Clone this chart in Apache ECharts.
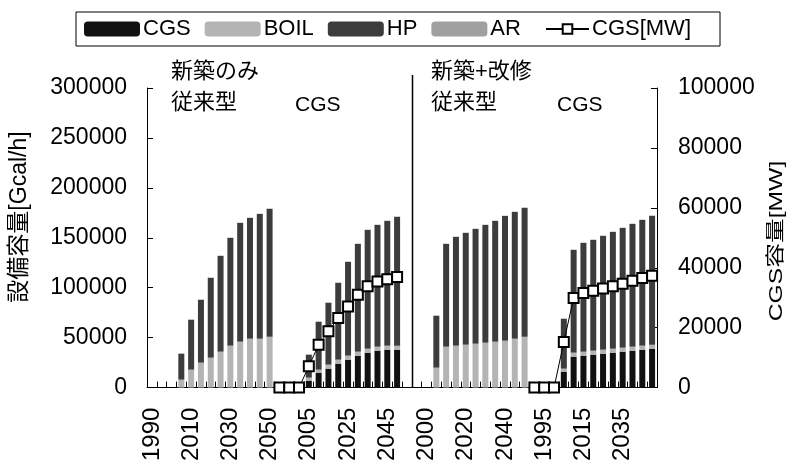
<!DOCTYPE html>
<html>
<head>
<meta charset="utf-8">
<script src="https://cdn.jsdelivr.net/npm/echarts@6/dist/echarts.min.js"></script>
<style>
html,body{margin:0;padding:0;background:#fff;}
#chart{width:793px;height:464px;}
</style>
</head>
<body>
<div id="chart"></div>
<script>
// ---- data ----
var panelYears = ['1990','1995','2000','2005','2010','2015','2020','2025','2030','2035','2040','2045','2050'];
var panelNames = ['新築のみ 従来型','新築のみ CGS','新築+改修 従来型','新築+改修 CGS'];
var seriesNames = ['CGS','BOIL','HP','AR','CGS[MW]'];

// Gcal/h, per panel (1990..2050)
var cgsP1  = [null,null,null,null,null,null,null,null,null,null,null,null,null];
var boilP1 = [null,null,null,8000,18000,25000,30000,36000,42000,46000,49000,49000,51000];
var hpP1   = [null,null,null,26000,50000,63000,80000,96000,108000,119000,121000,125000,128000];
var arP1   = [null,null,null,null,null,null,null,null,null,null,null,null,null];

var cgsP2  = [null,null,null,7000,15000,19000,24000,28000,32000,35000,37000,38000,38000];
var boilP2 = [null,null,null,3000,3000,4000,4000,4000,4000,4000,4000,4000,4000];
var hpP2   = [null,null,null,23000,48000,62000,77000,94000,108000,119000,122000,125000,129000];
var arP2   = [null,null,null,null,null,null,null,null,null,null,null,null,null];

var cgsP3  = [null,null,null,null,null,null,null,null,null,null,null,null,null];
var boilP3 = [null,null,null,20000,41000,42000,43000,44000,45000,46000,47000,49000,51000];
var hpP3   = [null,null,null,52000,103000,109000,112000,115000,118000,121000,125000,127000,129000];
var arP3   = [null,null,null,null,null,null,null,null,null,null,null,null,null];

var cgsP4  = [null,null,null,16000,31000,32000,33000,34000,35000,36000,37000,38000,39000];
var boilP4 = [null,null,null,3000,4000,4000,4000,4000,4000,4000,4000,4000,4000];
var hpP4   = [null,null,null,50000,103000,109000,111000,114000,117000,120000,123000,126000,129000];
var arP4   = [null,null,null,null,null,null,null,null,null,null,null,null,null];

// MW (right axis)
var mwP1 = [null,null,null,null,null,null,null,null,null,null,null,null,null];
var mwP2 = [0,0,0,7100,14300,18800,23200,27100,31000,33800,35400,36200,36900];
var mwP3 = [null,null,null,null,null,null,null,null,null,null,null,null,null];
var mwP4 = [0,0,0,15200,29900,31600,32300,33100,33800,34700,35700,36600,37300];

var leftTicks = [0,50000,100000,150000,200000,250000,300000];
var rightTicks = [0,20000,40000,60000,80000,100000];

// ---- build ----
var categories = [].concat(panelYears, panelYears, panelYears, panelYears);
var cgs  = [].concat(cgsP1, cgsP2, cgsP3, cgsP4);
var boil = [].concat(boilP1, boilP2, boilP3, boilP4);
var hp   = [].concat(hpP1, hpP2, hpP3, hpP4);
var ar   = [].concat(arP1, arP2, arP3, arP4);
var mw   = [].concat(mwP1, mwP2, mwP3, mwP4);

var FONT = "'Liberation Sans', Arial, 'Noto Sans CJK JP', sans-serif";
var chart = echarts.init(document.getElementById('chart'), null, {renderer:'canvas'});

function barSeries(name, data, color) {
  return {
    name: name, type: 'bar', stack: 'cap', data: data,
    barWidth: 6, itemStyle: {color: color}, emphasis: {disabled: true},
    animation: false
  };
}
function plain(v) { return String(v); }

var option = {
  backgroundColor: '#fff',
  animation: false,
  grid: {left: 147, right: 136, top: 88, bottom: 76, containLabel: false},
  legend: [{
    data: ['CGS','BOIL','HP','AR'],
    left: 84, top: 18, padding: 0,
    itemWidth: 56, itemHeight: 15, itemGap: 14,
    textStyle: {fontFamily: FONT, fontSize: 22, color: '#000', padding: [0,0,0,-2]},
    selectedMode: false
  },{
    data: ['CGS[MW]'],
    left: 545, top: 18, padding: 0,
    itemWidth: 43, itemHeight: 12,
    textStyle: {fontFamily: FONT, fontSize: 22, color: '#000', padding: [0,0,0,-2]},
    selectedMode: false
  }],
  xAxis: {
    type: 'category', data: categories,
    axisLine: {lineStyle: {color: '#000', width: 1}},
    axisTick: {show: true, inside: true, length: 6, interval: 0, lineStyle: {color: '#000'}},
    axisLabel: {interval: 3, rotate: 90, margin: 20, fontFamily: FONT, fontSize: 24, color: '#000'},
    splitLine: {show: false}
  },
  yAxis: [{
    type: 'value', min: leftTicks[0], max: leftTicks[leftTicks.length-1], interval: leftTicks[1]-leftTicks[0],
    axisLine: {show: true, lineStyle: {color: '#000'}},
    axisTick: {show: true, inside: true, length: 6, lineStyle: {color: '#000'}},
    axisLabel: {margin: 20, fontFamily: FONT, fontSize: 23, color: '#000', formatter: plain},
    splitLine: {show: false}
  },{
    type: 'value', min: rightTicks[0], max: rightTicks[rightTicks.length-1], interval: rightTicks[1]-rightTicks[0],
    position: 'right',
    axisLine: {show: true, lineStyle: {color: '#000'}},
    axisTick: {show: true, inside: true, length: 6, lineStyle: {color: '#000'}},
    axisLabel: {margin: 21, fontFamily: FONT, fontSize: 23, color: '#000', formatter: plain},
    splitLine: {show: false}
  }],
  series: [
    barSeries(seriesNames[0], cgs, '#111111'),
    barSeries(seriesNames[1], boil, '#b4b4b4'),
    barSeries(seriesNames[2], hp, '#3c3c3c'),
    barSeries(seriesNames[3], ar, '#a0a0a0'),
    {
      name: seriesNames[4], type: 'line', yAxisIndex: 1, data: mw,
      connectNulls: false, clip: false, z: 10,
      symbol: 'rect', symbolSize: 10, showAllSymbol: true,
      lineStyle: {color: '#000', width: 1},
      itemStyle: {color: '#fff', borderColor: '#000', borderWidth: 2},
      emphasis: {disabled: true}
    }
  ],
  graphic: [
    {type:'rect', id:'legendBox', shape:{x:76, y:12, width:644, height:34}, style:{fill:null, stroke:'#000', lineWidth:1}, z:-1},
    {type:'text', x:171, y:72, style:{text:'新築のみ', font:'22px ' + FONT, fill:'#000', verticalAlign:'middle'}},
    {type:'text', x:171, y:103, style:{text:'従来型', font:'22px ' + FONT, fill:'#000', verticalAlign:'middle'}},
    {type:'text', x:295, y:105, style:{text:'CGS', font:'21px ' + FONT, fill:'#000', verticalAlign:'middle'}},
    {type:'text', x:431, y:72, style:{text:'新築+改修', font:'22px ' + FONT, fill:'#000', verticalAlign:'middle'}},
    {type:'text', x:431, y:103, style:{text:'従来型', font:'22px ' + FONT, fill:'#000', verticalAlign:'middle'}},
    {type:'text', x:557, y:105, style:{text:'CGS', font:'21px ' + FONT, fill:'#000', verticalAlign:'middle'}},
    {type:'text', x:20, y:217, rotation: Math.PI/2, style:{text:'設備容量[Gcal/h]', font:'23px ' + FONT, fill:'#000', align:'center', verticalAlign:'middle'}},
    {type:'text', x:777, y:241, rotation: Math.PI/2, scaleX: 1.3, style:{text:'CGS容量[MW]', font:'19px ' + FONT, fill:'#000', align:'center', verticalAlign:'middle'}}
  ]
};
chart.setOption(option);

// panel divider between the two groups of panels
var xa = chart.convertToPixel({xAxisIndex: 0}, 26);
var xb = chart.convertToPixel({xAxisIndex: 0}, 27);
var y0 = chart.convertToPixel({yAxisIndex: 0}, 0);
var xd = Math.round((xa + xb) / 2) + 0.5;
chart.setOption({graphic: [{type:'line', id:'divider', shape:{x1:xd, y1:75, x2:xd, y2:y0}, style:{stroke:'#000', lineWidth:1.5}}]});
</script>
</body>
</html>
